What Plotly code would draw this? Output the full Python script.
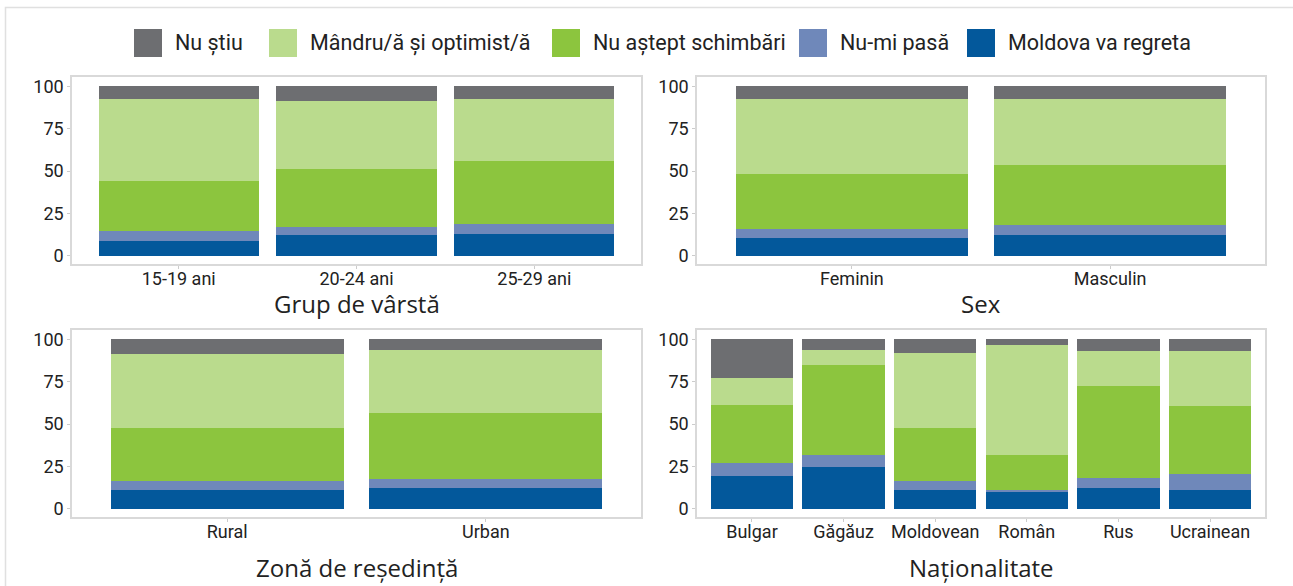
import plotly.graph_objects as go

W, H = 1293, 586

# ---------------- data ----------------
series_names = ["Moldova va regreta", "Nu-mi pasă", "Nu aștept schimbări",
                "Mândru/ă și optimist/ă", "Nu știu"]
colors = {
    "Moldova va regreta": "#03589b",
    "Nu-mi pasă": "#6f88ba",
    "Nu aștept schimbări": "#8cc53e",
    "Mândru/ă și optimist/ă": "#badb8d",
    "Nu știu": "#6d6e71",
}
legend_order = ["Nu știu", "Mândru/ă și optimist/ă", "Nu aștept schimbări",
                "Nu-mi pasă", "Moldova va regreta"]

age_cats = ["15-19 ani", "20-24 ani", "25-29 ani"]
age_moldova = [8.7, 12.2, 12.8]
age_pasa = [5.9, 4.8, 5.9]
age_astept = [29.6, 34.3, 37.3]
age_mandru = [48.5, 40.2, 36.7]
age_nustiu = [7.9, 9.1, 7.9]

sex_cats = ["Feminin", "Masculin"]
sex_moldova = [10.5, 12.2]
sex_pasa = [5.1, 5.9]
sex_astept = [32.7, 35.5]
sex_mandru = [44.4, 39.1]
sex_nustiu = [7.9, 7.9]

zone_cats = ["Rural", "Urban"]
zone_moldova = [11.2, 12.4]
zone_pasa = [4.8, 4.8]
zone_astept = [31.9, 39.6]
zone_mandru = [43.8, 37.3]
zone_nustiu = [8.9, 6.5]

nat_cats = ["Bulgar", "Găgăuz", "Moldovean", "Român", "Rus", "Ucrainean"]
nat_moldova = [19.5, 24.3, 10.7, 9.5, 12.4, 11.2]
nat_pasa = [7.7, 7.1, 5.3, 1.7, 5.4, 9.5]
nat_astept = [34.3, 53.8, 31.9, 20.2, 55.0, 40.2]
nat_mandru = [16.0, 8.9, 44.4, 65.6, 20.7, 32.6]
nat_nustiu = [23.1, 6.5, 8.3, 3.6, 7.1, 7.1]

panels = [
    ("Grup de vârstă", age_cats, [age_moldova, age_pasa, age_astept, age_mandru, age_nustiu]),
    ("Sex", sex_cats, [sex_moldova, sex_pasa, sex_astept, sex_mandru, sex_nustiu]),
    ("Zonă de reședință", zone_cats, [zone_moldova, zone_pasa, zone_astept, zone_mandru, zone_nustiu]),
    ("Naționalitate", nat_cats, [nat_moldova, nat_pasa, nat_astept, nat_mandru, nat_nustiu]),
]
y_ticks = [0, 25, 50, 75, 100]

# ---------------- layout geometry (pixels) ----------------
col_px = [(72, 641), (697, 1265)]
row_px = [(77, 264), (330, 517)]
title_y_px = [304, 567]

def px_x(x):
    return x / W

def px_y(y):
    return 1 - y / H

fig = go.Figure()
tick_font = dict(family="Roboto, Open Sans, sans-serif", size=18, color="#222222")

for i, (title, cats, vals) in enumerate(panels):
    r, c = divmod(i, 2)
    ax = "" if i == 0 else str(i + 1)
    for name, v in zip(series_names, vals):
        fig.add_trace(go.Bar(
            x=cats, y=v, name=name, marker=dict(color=colors[name], line=dict(width=0)),
            xaxis="x" + ax, yaxis="y" + ax, showlegend=False,
        ))
    x0, x1 = col_px[c]
    yt, yb = row_px[r]
    fig.update_layout(**{
        "xaxis" + ax: dict(
            domain=[px_x(x0), px_x(x1)], anchor="y" + ax, type="category",
            range=[-0.6, len(cats) - 0.4], showline=True, mirror=True,
            linecolor="#d9d9d9", linewidth=1.5, ticks="outside", ticklen=3,
            tickcolor="#cccccc", tickwidth=1, showgrid=False, zeroline=False,
            tickfont=tick_font, automargin=False, fixedrange=True,
            ticklabelstandoff=-5,
        ),
        "yaxis" + ax: dict(
            domain=[px_y(yb), px_y(yt)], anchor="x" + ax,
            range=[-5.03, 105.66], tickvals=y_ticks, showline=True, mirror=True,
            linecolor="#d9d9d9", linewidth=1.5, ticks="outside", ticklen=3,
            tickcolor="#cccccc", tickwidth=1, showgrid=False, zeroline=False,
            tickfont=tick_font, automargin=False, fixedrange=True,
        ),
    })
    fig.add_annotation(
        text=title, x=px_x((x0 + x1) / 2), y=px_y(title_y_px[r]),
        xref="paper", yref="paper", xanchor="center", yanchor="middle",
        showarrow=False, font=dict(family="Open Sans, Roboto, sans-serif", size=24, color="#222222"),
    )

# ---------------- custom legend ----------------
legend_swatch_x = [134, 269, 552, 799, 967]
sw = 28
leg_top, leg_bot = 29, 57
for name, sx in zip(legend_order, legend_swatch_x):
    fig.add_shape(type="rect", xref="paper", yref="paper",
                  x0=px_x(sx), x1=px_x(sx + sw), y0=px_y(leg_bot), y1=px_y(leg_top),
                  fillcolor=colors[name], line=dict(width=0))
    fig.add_annotation(text=name, x=px_x(sx + sw + 11), y=px_y((leg_top + leg_bot) / 2),
                       xref="paper", yref="paper", xanchor="left", yanchor="middle",
                       showarrow=False,
                       font=dict(family="Roboto, Open Sans, sans-serif", size=21.5, color="#222222"))

# outer card border
fig.add_shape(type="rect", xref="paper", yref="paper",
              x0=px_x(5.5), x1=px_x(W + 5), y0=px_y(H + 5), y1=px_y(7.5),
              line=dict(color="#e0e0e0", width=1.5), fillcolor="rgba(0,0,0,0)", layer="below")

fig.update_layout(
    width=W, height=H, barmode="stack", bargap=0.1,
    margin=dict(l=0, r=0, t=0, b=0),
    paper_bgcolor="white", plot_bgcolor="white",
    showlegend=False,
)

fig.write_html(
    "out.html",
    config={"displayModeBar": False},
    post_script="document.body.style.margin='0px';document.body.style.overflow='hidden';",
)
